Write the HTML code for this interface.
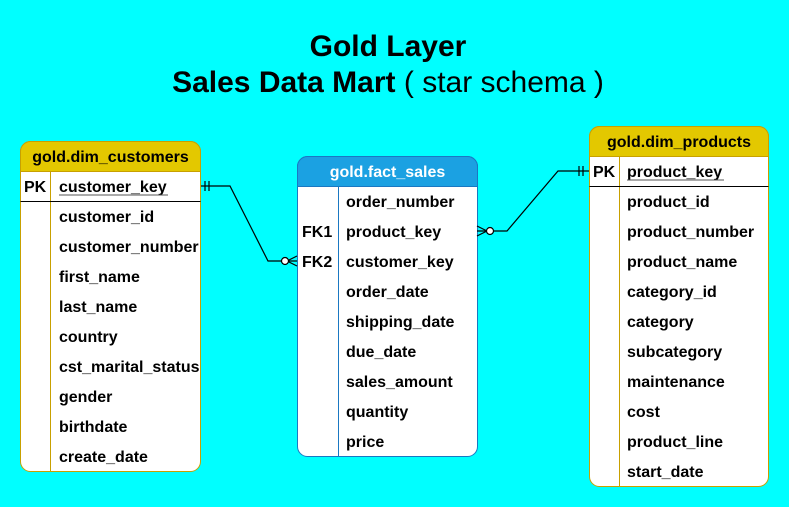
<!DOCTYPE html>
<html><head><meta charset="utf-8"><style>
html,body{margin:0;padding:0;background:#00ffff;}
svg{display:block;}
text{font-family:"Liberation Sans",Arial,sans-serif;}
.r{font-size:16px;font-weight:bold;fill:#000;}
.h{font-size:16px;font-weight:bold;}
</style></head><body>
<svg width="789" height="507" viewBox="0 0 789 507" xmlns="http://www.w3.org/2000/svg">
<rect width="789" height="507" fill="#00ffff"/>
<text x="388" y="56" text-anchor="middle" font-size="30" font-weight="bold">Gold Layer</text>
<text x="388" y="92" text-anchor="middle" font-size="30"><tspan font-weight="bold">Sales Data Mart</tspan> ( star schema )</text>

<!-- customers -->
<rect x="20.5" y="141.5" width="180" height="330" rx="10" fill="#fff" stroke="#c8a000"/>
<path d="M20.5 171.5 V151.5 a10 10 0 0 1 10 -10 H190.5 a10 10 0 0 1 10 10 V171.5 Z" fill="#e3c800" stroke="#c8a000"/>
<line x1="50.5" y1="171.5" x2="50.5" y2="471" stroke="#c8a000"/>
<line x1="20.5" y1="201.5" x2="200.5" y2="201.5" stroke="#000"/>
<text x="110.5" y="162" text-anchor="middle" class="h">gold.dim_customers</text>
<text x="24" y="192" class="r">PK</text>
<text x="59" y="192" class="r">customer_key</text>
<line x1="59" y1="195" x2="168" y2="195" stroke="#555"/>
<text x="59" y="222" class="r">customer_id</text>
<text x="59" y="252" class="r">customer_number</text>
<text x="59" y="282" class="r">first_name</text>
<text x="59" y="312" class="r">last_name</text>
<text x="59" y="342" class="r">country</text>
<text x="59" y="372" class="r">cst_marital_status</text>
<text x="59" y="402" class="r">gender</text>
<text x="59" y="432" class="r">birthdate</text>
<text x="59" y="462" class="r">create_date</text>

<!-- fact -->
<rect x="297.5" y="156.5" width="180" height="300" rx="10" fill="#fff" stroke="#1a78c2"/>
<path d="M297.5 186.5 V166.5 a10 10 0 0 1 10 -10 H467.5 a10 10 0 0 1 10 10 V186.5 Z" fill="#1ba1e2" stroke="#1a78c2"/>
<line x1="338.5" y1="186.5" x2="338.5" y2="456" stroke="#1a78c2"/>
<text x="387.5" y="177" text-anchor="middle" class="h" fill="#fff">gold.fact_sales</text>
<text x="346" y="207" class="r">order_number</text>
<text x="302" y="237" class="r">FK1</text>
<text x="346" y="237" class="r">product_key</text>
<text x="302" y="267" class="r">FK2</text>
<text x="346" y="267" class="r">customer_key</text>
<text x="346" y="297" class="r">order_date</text>
<text x="346" y="327" class="r">shipping_date</text>
<text x="346" y="357" class="r">due_date</text>
<text x="346" y="387" class="r">sales_amount</text>
<text x="346" y="417" class="r">quantity</text>
<text x="346" y="447" class="r">price</text>

<!-- products -->
<rect x="589.5" y="126.5" width="179" height="360" rx="10" fill="#fff" stroke="#c8a000"/>
<path d="M589.5 156.5 V136.5 a10 10 0 0 1 10 -10 H758.5 a10 10 0 0 1 10 10 V156.5 Z" fill="#e3c800" stroke="#c8a000"/>
<line x1="619.5" y1="156.5" x2="619.5" y2="486" stroke="#c8a000"/>
<line x1="589.5" y1="186.5" x2="768.5" y2="186.5" stroke="#000"/>
<text x="679" y="147" text-anchor="middle" class="h">gold.dim_products</text>
<text x="593" y="177" class="r">PK</text>
<text x="627" y="177" class="r">product_key</text>
<line x1="627" y1="180" x2="724" y2="180" stroke="#555"/>
<text x="627" y="207" class="r">product_id</text>
<text x="627" y="237" class="r">product_number</text>
<text x="627" y="267" class="r">product_name</text>
<text x="627" y="297" class="r">category_id</text>
<text x="627" y="327" class="r">category</text>
<text x="627" y="357" class="r">subcategory</text>
<text x="627" y="387" class="r">maintenance</text>
<text x="627" y="417" class="r">cost</text>
<text x="627" y="447" class="r">product_line</text>
<text x="627" y="477" class="r">start_date</text>

<!-- connectors -->
<g stroke="#000" fill="none" stroke-width="1.2">
<path d="M201 186 H230 L268 261 H297"/>
<line x1="205" y1="181" x2="205" y2="191"/>
<line x1="209" y1="181" x2="209" y2="191"/>
<path d="M297 256 L287 261 L297 266"/>
<circle cx="285" cy="261" r="3.5" fill="#fff"/>
<path d="M477 231 H507 L558 171 H589"/>
<line x1="583" y1="166" x2="583" y2="176"/>
<line x1="579" y1="166" x2="579" y2="176"/>
<path d="M477 226 L487 231 L477 236"/>
<circle cx="490" cy="231" r="3.5" fill="#fff"/>
</g>
</svg>
</body></html>
